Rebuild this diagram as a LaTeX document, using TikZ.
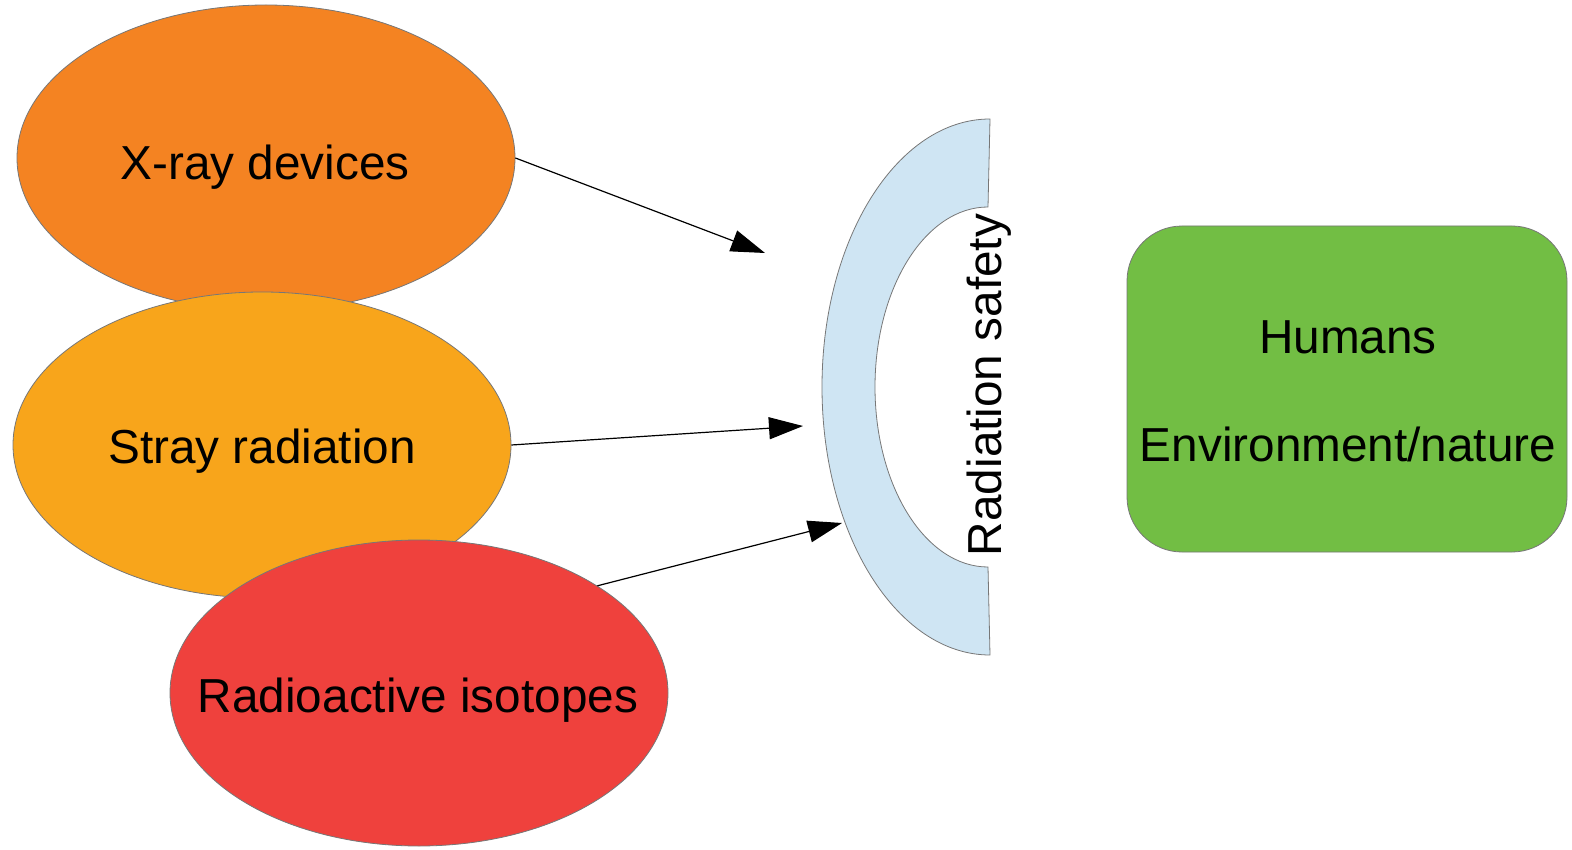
\documentclass[tikz,border=0pt]{standalone}
\usepackage{fontspec}
\setmainfont{Liberation Sans}
\usetikzlibrary{shapes.geometric,arrows.meta}
\definecolor{cxray}{HTML}{F48322}
\definecolor{cstray}{HTML}{F8A51B}
\definecolor{ciso}{HTML}{EF413D}
\definecolor{cgreen}{HTML}{72BE44}
\definecolor{cshield}{HTML}{CFE5F3}
\definecolor{cedge}{HTML}{777777}
\begin{document}
\begin{tikzpicture}[x=1pt,y=-1pt,
  src/.style={ellipse,draw=cedge,line width=0.8pt,inner sep=0pt,minimum width=498pt,minimum height=306pt},
  lbl/.style={font=\fontsize{47.7}{57}\selectfont,anchor=base,inner sep=0pt},
  arr/.style={-{Triangle[length=34pt,width=22pt]},line width=1.2pt,black}]
\useasboundingbox (0,0) rectangle (1572,850);
% sources
\node[src,fill=cxray] (xray) at (266,158) {};
\node[lbl] (xrayt) at (265,180) {X-ray devices};
\node[src,fill=cstray] (stray) at (262,445) {};
\node[lbl] (strayt) at (262,463) {Stray radiation};
\node[src,fill=ciso] (iso) at (419,693) {};
\node[lbl] (isot) at (418,712) {Radioactive isotopes};
% shield
\draw[draw=cedge,fill=cshield,line width=0.8pt] (990,119) arc[start angle=90,end angle=270,x radius=168pt,y radius=268pt]
  -- (988,567) arc[start angle=270,end angle=90,x radius=113pt,y radius=180pt] -- cycle;
\node[lbl,rotate=90] (rs) at (1001,385) {Radiation safety};
% target
\node[draw=cedge,fill=cgreen,rounded corners=55pt,line width=0.8pt,minimum width=440pt,minimum height=326pt] (hum) at (1347,389) {};
\node[lbl] (humt) at (1348,353) {Humans};
\node[lbl] (envt) at (1348,461) {Environment/nature};
% arrows
\coordinate (t1) at (765,253);
\coordinate (t2) at (803,426);
\coordinate (t3) at (842,523);
\draw[arr] (xray.east) -- (t1);
\draw[arr] (stray.east) -- (t2);
\draw[arr] (iso.31) -- (t3);
\end{tikzpicture}
\end{document}
